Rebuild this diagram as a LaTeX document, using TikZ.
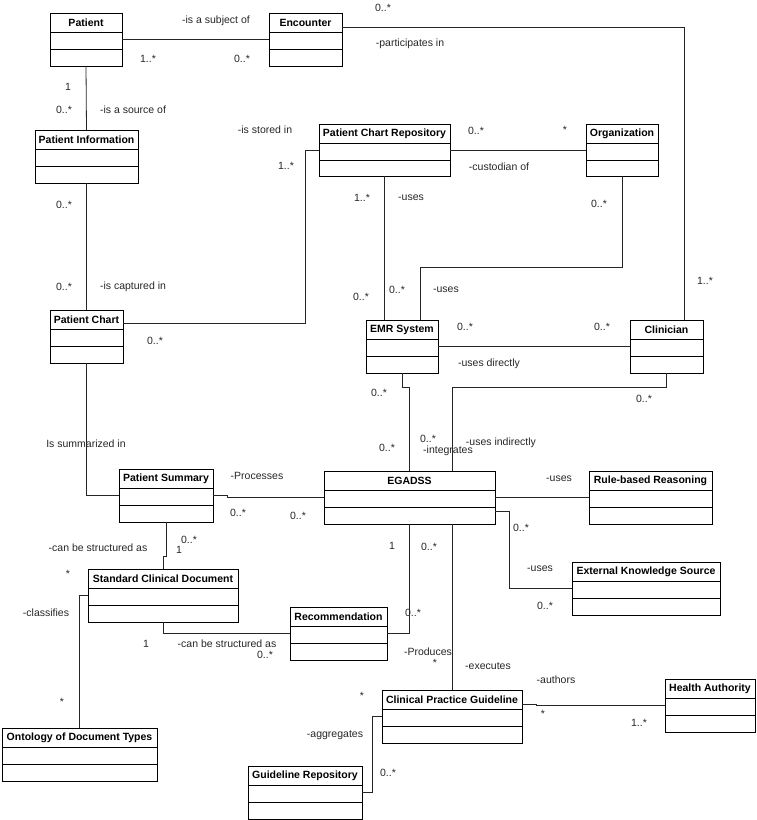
\documentclass[tikz,border=0pt]{standalone}
\usepackage{fontspec}
\setmainfont{Liberation Sans}
\usetikzlibrary{calc}
\tikzset{
  clsbox/.style={draw=black, line width=0.9pt, inner sep=0pt, outer sep=0pt, rectangle},
  clsline/.style={draw=black, line width=0.8pt},
  clstitle/.style={font=\fontsize{10.5}{12}\selectfont\bfseries, inner sep=0pt},
  conn/.style={draw=black!85, line width=0.8pt},
  lbl/.style={font=\fontsize{10.5}{12}\selectfont, inner sep=0pt, text=black!85}
}
\newcommand\umlcls[6]{%
  \node[clsbox, anchor=north west, minimum width={(#4-#2)*1pt}, minimum height={(#5-#3)*1pt}] (#1) at (#2,#3) {};
  \draw[clsline] ([yshift=-19.5pt]#1.north west) -- ([yshift=-19.5pt]#1.north east);
  \draw[clsline] ([yshift=-36.5pt]#1.north west) -- ([yshift=-36.5pt]#1.north east);
  \node[clstitle] at ([yshift=-10pt]#1.north) {#6};
}
\begin{document}
\begin{tikzpicture}[x=1pt,y=-1pt]
\useasboundingbox (0,0) rectangle (756,820);
% classes
\umlcls{pat}{50}{13}{122}{66}{Patient}
\umlcls{enc}{269}{13}{342}{66}{Encounter}
\umlcls{pinf}{35}{130}{138}{183}{Patient Information}
\umlcls{pcr}{319}{124}{450}{176}{Patient Chart Repository}
\umlcls{org}{586}{124}{658}{176}{Organization}
\umlcls{pch}{50}{310}{123}{363}{Patient Chart}
\umlcls{emr}{366}{320}{438}{373}{EMR System}
\umlcls{cli}{630}{320}{703}{373}{Clinician}
\umlcls{psum}{119}{469}{213}{522}{Patient Summary}
\umlcls{ega}{324}{471}{495}{524}{EGADSS}
\umlcls{rbr}{589}{471}{712}{524}{Rule-based Reasoning}
\umlcls{eks}{572}{562}{720}{615}{External Knowledge Source}
\umlcls{scd}{88}{569}{238}{622}{Standard Clinical Document}
\umlcls{rec}{290}{607}{387}{660}{Recommendation}
\umlcls{ont}{2}{728}{157}{781}{Ontology of Document Types}
\umlcls{gr}{248}{766}{362}{819}{Guideline Repository}
\umlcls{cpg}{382}{690}{522}{743}{Clinical Practice Guideline}
\umlcls{ha}{665}{679}{755}{732}{Health Authority}
% connectors
\draw[conn] (pat.east) -- (enc.west);
\draw[conn] ([yshift=12.5pt]enc.east) -| ([xshift=17.5pt]cli.north);
\draw[conn] (pat.south) -- (pinf.north);
\draw[conn] (pinf.south) -- (pch.north);
\draw[conn] ([yshift=13.5pt]pch.east) -| ($(pcr.west)+(-14,0)$) -- (pcr.west);
\draw[conn] (pcr.east) -- (org.west);
\draw[conn] (pcr.south) -- (pcr.south |- emr.north);
\draw[conn] (org.south) -- ++(0,91) -| ([xshift=18pt]emr.north);
\draw[conn] (emr.east) -- (cli.west);
\draw[conn] (emr.south) -- ++(0,14) -| (ega.north);
\draw[conn] (cli.south) -- ++(0,14) -| ([xshift=42.5pt]ega.north);
\draw[conn] (pch.south) |- (psum.west);
\draw[conn] (psum.east) -- ++(14,0) |- (ega.west);
\draw[conn] (psum.south) -- ++(0,34) -| (scd.north);
\draw[conn] (scd.south) |- (rec.west);
\draw[conn] (scd.west) -| (ont.north);
\draw[conn] (ega.south) |- (rec.east);
\draw[conn] ([xshift=42.5pt]ega.south) -- ([xshift=42.5pt]ega.south |- cpg.north);
\draw[conn] (ega.east) -- (rbr.west);
\draw[conn] ([yshift=-13.5pt]ega.east) -- ++(14,0) |- (eks.west);
\draw[conn] ([yshift=12.5pt]cpg.east) -- ++(14,0) |- (ha.west);
\draw[conn] (cpg.west) -- ++(-10,0) |- (gr.east);
% labels
\node[lbl] at (216,21) {-is a subject of};
\node[lbl] at (148,59) {1..*};
\node[lbl] at (242,59) {0..*};
\node[lbl] at (383,8) {0..*};
\node[lbl] at (410,44) {-participates in};
\node[lbl] at (68,87) {1};
\node[lbl] at (64,110) {0..*};
\node[lbl] at (133,110) {-is a source of};
\node[lbl] at (265,130) {-is stored in};
\node[lbl] at (286,166) {1..*};
\node[lbl] at (476,131) {0..*};
\node[lbl] at (565,130) {*};
\node[lbl] at (499,167) {-custodian of};
\node[lbl] at (362,198) {1..*};
\node[lbl] at (411,198) {-uses};
\node[lbl] at (64,205) {0..*};
\node[lbl] at (599,204) {0..*};
\node[lbl] at (705,281) {1..*};
\node[lbl] at (64,287) {0..*};
\node[lbl] at (133,287) {-is captured in};
\node[lbl] at (361,297) {0..*};
\node[lbl] at (397,290) {0..*};
\node[lbl] at (446,290) {-uses};
\node[lbl] at (155,341) {0..*};
\node[lbl] at (465,327) {0..*};
\node[lbl] at (602,327) {0..*};
\node[lbl] at (489,364) {-uses directly};
\node[lbl] at (379,393) {0..*};
\node[lbl] at (644,399) {0..*};
\node[lbl] at (86,444) {Is summarized in};
\node[lbl] at (387,448) {0..*};
\node[lbl] at (428,439) {0..*};
\node[lbl] at (448,451) {-integrates};
\node[lbl] at (501,443) {-uses indirectly};
\node[lbl] at (257,476) {-Processes};
\node[lbl] at (559,479) {-uses};
\node[lbl] at (238,513) {0..*};
\node[lbl] at (298,516) {0..*};
\node[lbl] at (521,528) {0..*};
\node[lbl] at (98,548) {-can be structured as};
\node[lbl] at (189,540) {0..*};
\node[lbl] at (179,550) {1};
\node[lbl] at (392,546) {1};
\node[lbl] at (429,547) {0..*};
\node[lbl] at (68,574) {*};
\node[lbl] at (540,569) {-uses};
\node[lbl] at (545,606) {0..*};
\node[lbl] at (46,613) {-classifies};
\node[lbl] at (413,613) {0..*};
\node[lbl] at (146,644) {1};
\node[lbl] at (227,644) {-can be structured as};
\node[lbl] at (265,655) {0..*};
\node[lbl] at (428,652) {-Produces};
\node[lbl] at (435,663) {*};
\node[lbl] at (488,666) {-executes};
\node[lbl] at (556,680) {-authors};
\node[lbl] at (362,696) {*};
\node[lbl] at (62,702) {*};
\node[lbl] at (543,714) {*};
\node[lbl] at (639,723) {1..*};
\node[lbl] at (335,735) {-aggregates};
\node[lbl] at (388,773) {0..*};
\end{tikzpicture}
\end{document}
